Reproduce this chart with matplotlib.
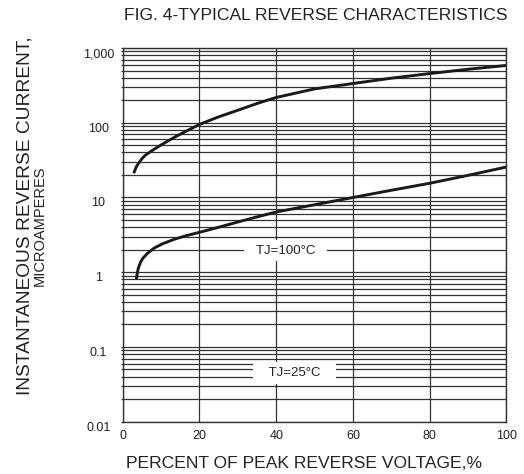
import matplotlib
matplotlib.use('Agg')
import matplotlib.pyplot as plt
import matplotlib.transforms as mtransforms
from matplotlib import font_manager
from matplotlib.ticker import FixedLocator, LogLocator, NullFormatter

# values
pct_upper = [3.0, 3.5, 4.1, 5.0, 5.8, 7.5, 9.3, 11.5, 13.6, 16.5, 20,
             25, 30, 35, 40, 50, 60, 70, 80, 90, 100]
cur_upper = [22, 25.5, 28.5, 33, 36.5, 42, 48, 56, 64.5, 77, 95,
             120, 147, 181, 218, 284, 335, 395, 455, 520, 585]

pct_lower = [3.6, 3.8, 4.1, 4.7, 5.3, 6.5, 8.3, 10.5, 13.6, 16.5, 20,
             25, 30, 35, 40, 50, 60, 70, 80, 90, 100]
cur_lower = [0.83, 0.98, 1.15, 1.38, 1.55, 1.8, 2.12, 2.42, 2.78, 3.08, 3.42,
             4.0, 4.7, 5.5, 6.4, 8.0, 10.0, 12.5, 15.5, 19.8, 25.6]

x_ticks = [0, 20, 40, 60, 80, 100]
y_ticks = [0.01, 0.1, 1, 10, 100, 1000]
y_tick_labels = ['0.01', '0.1', '1', '10', '100', '1,000']

plt.rcParams['font.family'] = ['Liberation Sans', 'DejaVu Sans']
installed = {f.name for f in font_manager.fontManager.ttflist}
if 'Liberation Sans Narrow' in installed:
    narrow = dict(family=['Liberation Sans Narrow', 'DejaVu Sans'], fontsize=13)
else:
    narrow = dict(family=['Liberation Sans', 'DejaVu Sans'], fontsize=10.5)

txt = '#222222'
grid_c = '#333333'

fig = plt.figure(figsize=(5.24, 4.74), dpi=100)
ax = fig.add_axes([0.2342, 0.1103, 0.7324, 0.7884])

ax.plot(pct_upper, cur_upper, color='#1a1a1a', lw=2.1)
ax.plot(pct_lower, cur_lower, color='#1a1a1a', lw=2.1)

ax.set_yscale('log')
ax.set_xlim(0, 100)
ax.set_ylim(0.01, 1000)

ax.xaxis.set_major_locator(FixedLocator(x_ticks))
ax.set_xticklabels([str(v) for v in x_ticks])
ax.yaxis.set_major_locator(FixedLocator(y_ticks))
ax.yaxis.set_minor_locator(LogLocator(base=10, subs=range(2, 10)))
ax.yaxis.set_minor_formatter(NullFormatter())
ax.set_yticklabels(y_tick_labels)

ax.set_axisbelow(True)
ax.grid(which='both', axis='y', color=grid_c, lw=0.9)
ax.grid(which='major', axis='x', color=grid_c, lw=0.9)

ax.tick_params(axis='x', length=0, pad=6, labelsize=9, labelcolor=txt)
ax.tick_params(axis='y', which='both', direction='out', length=1.5,
               color=grid_c, width=0.9)
ax.tick_params(axis='y', which='major', pad=16, labelsize=9, labelcolor=txt)

shift = mtransforms.ScaledTranslation(0, -4.5 / 100, fig.dpi_scale_trans)
for tick in ax.yaxis.get_major_ticks():
    tick.label1.set_horizontalalignment('center')
    tick.label1.set_transform(tick.label1.get_transform() + shift)

for s in ax.spines.values():
    s.set_color(grid_c)
    s.set_linewidth(1.0)

ax.text(42.5, 1.95, '  TJ=100°C  ', fontsize=9.5, color=txt,
        ha='center', va='center',
        bbox=dict(boxstyle='square,pad=0.35', facecolor='white', edgecolor='none'))
ax.text(44.7, 0.045, '   TJ=25°C   ', fontsize=9.5, color=txt,
        ha='center', va='center',
        bbox=dict(boxstyle='square,pad=0.35', facecolor='white', edgecolor='none'))

fig.text(316 / 524, 1 - 20 / 474, 'FIG. 4-TYPICAL REVERSE CHARACTERISTICS',
         fontsize=12.6, color=txt, ha='center', va='baseline')
fig.text(304 / 524, 1 - 468 / 474, 'PERCENT OF PEAK REVERSE VOLTAGE,%',
         fontsize=12.6, color=txt, ha='center', va='baseline')

fig.text(25 / 524, 1 - 216 / 474, 'INSTANTANEOUS REVERSE CURRENT,',
         fontsize=13.8, color=txt, rotation=90, ha='center', va='center')
fig.text(40 / 524, 1 - 226 / 474, 'MICROAMPERES', color=txt,
         rotation=90, ha='center', va='center', **narrow)

fig.savefig('out.png', dpi=100)
